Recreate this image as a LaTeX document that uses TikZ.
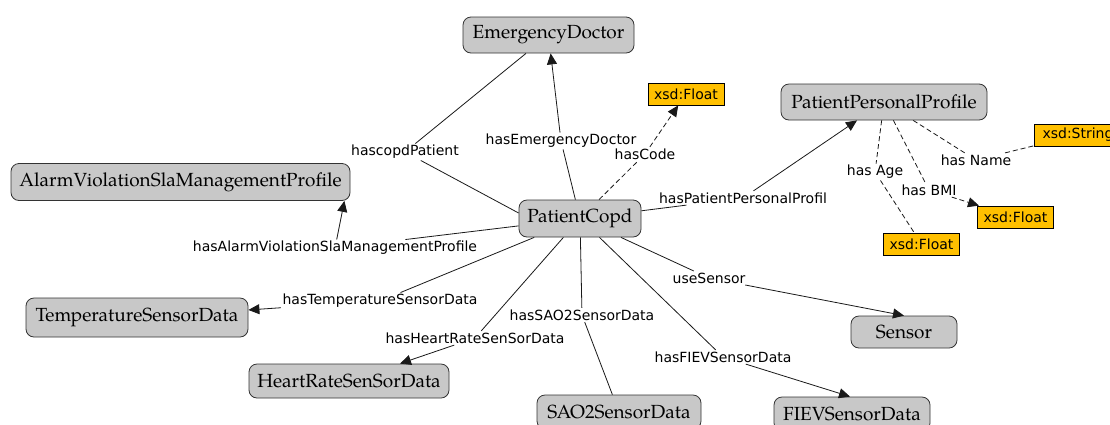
\documentclass[tikz,border=0pt]{standalone}
\usepackage{fontspec}
\usetikzlibrary{arrows.meta}
\newfontfamily\labfont{DejaVu Sans}
\newfontfamily\palafont{TeX Gyre Pagella}
\definecolor{boxgray}{RGB}{200,200,200}
\definecolor{xsdfill}{RGB}{255,192,0}
\begin{document}
\begin{tikzpicture}[x=1pt,y=-1pt,
  cls/.style={draw=black!80, fill=boxgray, rounded corners=8pt, line width=0.8pt,
    font=\palafont\fontsize{19}{22}\selectfont, inner sep=0pt},
  dt/.style={draw=black, fill=xsdfill, line width=0.8pt,
    font=\labfont\fontsize{14}{16}\selectfont, minimum width=76pt, minimum height=22pt, inner sep=0pt},
  lab/.style={font=\labfont\fontsize{14}{16}\selectfont, fill=white, inner sep=1.5pt},
  rel/.style={draw=black!90, line width=0.8pt},
  arr/.style={-{Triangle[length=11pt,width=10pt]}},
  dsh/.style={dash pattern=on 5pt off 3pt}]
\useasboundingbox (0,0) rectangle (1110,424);
\clip (0,0) rectangle (1110,424);
\fill[white] (0,0) rectangle (1110,424);

% class nodes
\node[cls, minimum width=171pt, minimum height=36pt] (ED) at (548.5,35) {EmergencyDoctor};
\node[cls, minimum width=339pt, minimum height=37pt] (AV) at (180.5,182) {AlarmViolationSlaManagementProfile};
\node[cls, minimum width=122pt, minimum height=37pt] (PC) at (580,218.5) {PatientCopd};
\node[cls, minimum width=206pt, minimum height=36pt] (PPP) at (884,102) {PatientPersonalProfile};
\node[cls, minimum width=222pt, minimum height=39pt] (TSD) at (137,317.5) {TemperatureSensorData};
\node[cls, minimum width=200pt, minimum height=34pt] (HR) at (349,381) {HeartRateSenSorData};
\node[cls, minimum width=164pt, minimum height=34pt] (SAO) at (619,412) {SAO2SensorData};
\node[cls, minimum width=156pt, minimum height=34pt] (FIEV) at (852,414) {FIEVSensorData};
\node[cls, minimum width=106pt, minimum height=32pt] (SEN) at (904,332) {Sensor};

% datatype nodes
\node[dt] (F1) at (686,94) {xsd:Float};
\node[dt, minimum width=88pt] (STR) at (1078,135) {xsd:String};
\node[dt] (F2) at (1015.5,217) {xsd:Float};
\node[dt] (F3) at (921.5,244) {xsd:Float};

% edge labels
\node[lab] (lED) at (561,141) {hasEmergencyDoctor};
\node[lab] (lCP) at (405,152) {hascopdPatient};
\node[lab] (lCode) at (645,154) {hasCode};
\node[lab] (lPPP) at (743,198) {hasPatientPersonalProfil};
\node[lab] (lName) at (976,160) {has Name};
\node[lab] (lAge) at (875,172) {has Age};
\node[lab] (lBMI) at (929,190) {has BMI};
\node[lab] (lAV) at (335,248) {hasAlarmViolationSlaManagementProfile};
\node[lab] (lTSD) at (380,301) {hasTemperatureSensorData};
\node[lab] (lHR) at (475,338) {hasHeartRateSenSorData};
\node[lab] (lSAO) at (582,315) {hasSAO2SensorData};
\node[lab] (lUse) at (709,278) {useSensor};
\node[lab] (lFIEV) at (723,357) {hasFIEVSensorData};

% connectors
\draw[rel, arr] (PC) -- (lED) -- (ED);
\draw[rel] (ED) -- (lCP) -- ([yshift=5.5pt]PC.west);
\draw[rel, arr, dsh] (PC) -- (lCode) -- (F1);
\draw[rel, arr] (PC) -- (lPPP) -- (PPP);
\draw[rel, dsh] (PPP) -- (lName) -- (STR);
\draw[rel, arr, dsh] (PPP) -- (lBMI) -- (F2);
\draw[rel, dsh] (PPP) -- (lAge) -- (F3);
\draw[rel, arr] (PC) -- (lAV) -- ([xshift=-6pt]AV.south east);
\draw[rel, arr] (PC) -- (lTSD) -- (TSD);
\draw[rel, arr] (PC) -- (lHR) -- (HR);
\draw[rel] (PC) -- (lSAO) -- (SAO);
\draw[rel, arr] (PC) -- (lFIEV) -- ([xshift=-2pt]FIEV.north);
\draw[rel, arr] (PC) -- (lUse) -- (SEN.north);
\end{tikzpicture}
\end{document}
